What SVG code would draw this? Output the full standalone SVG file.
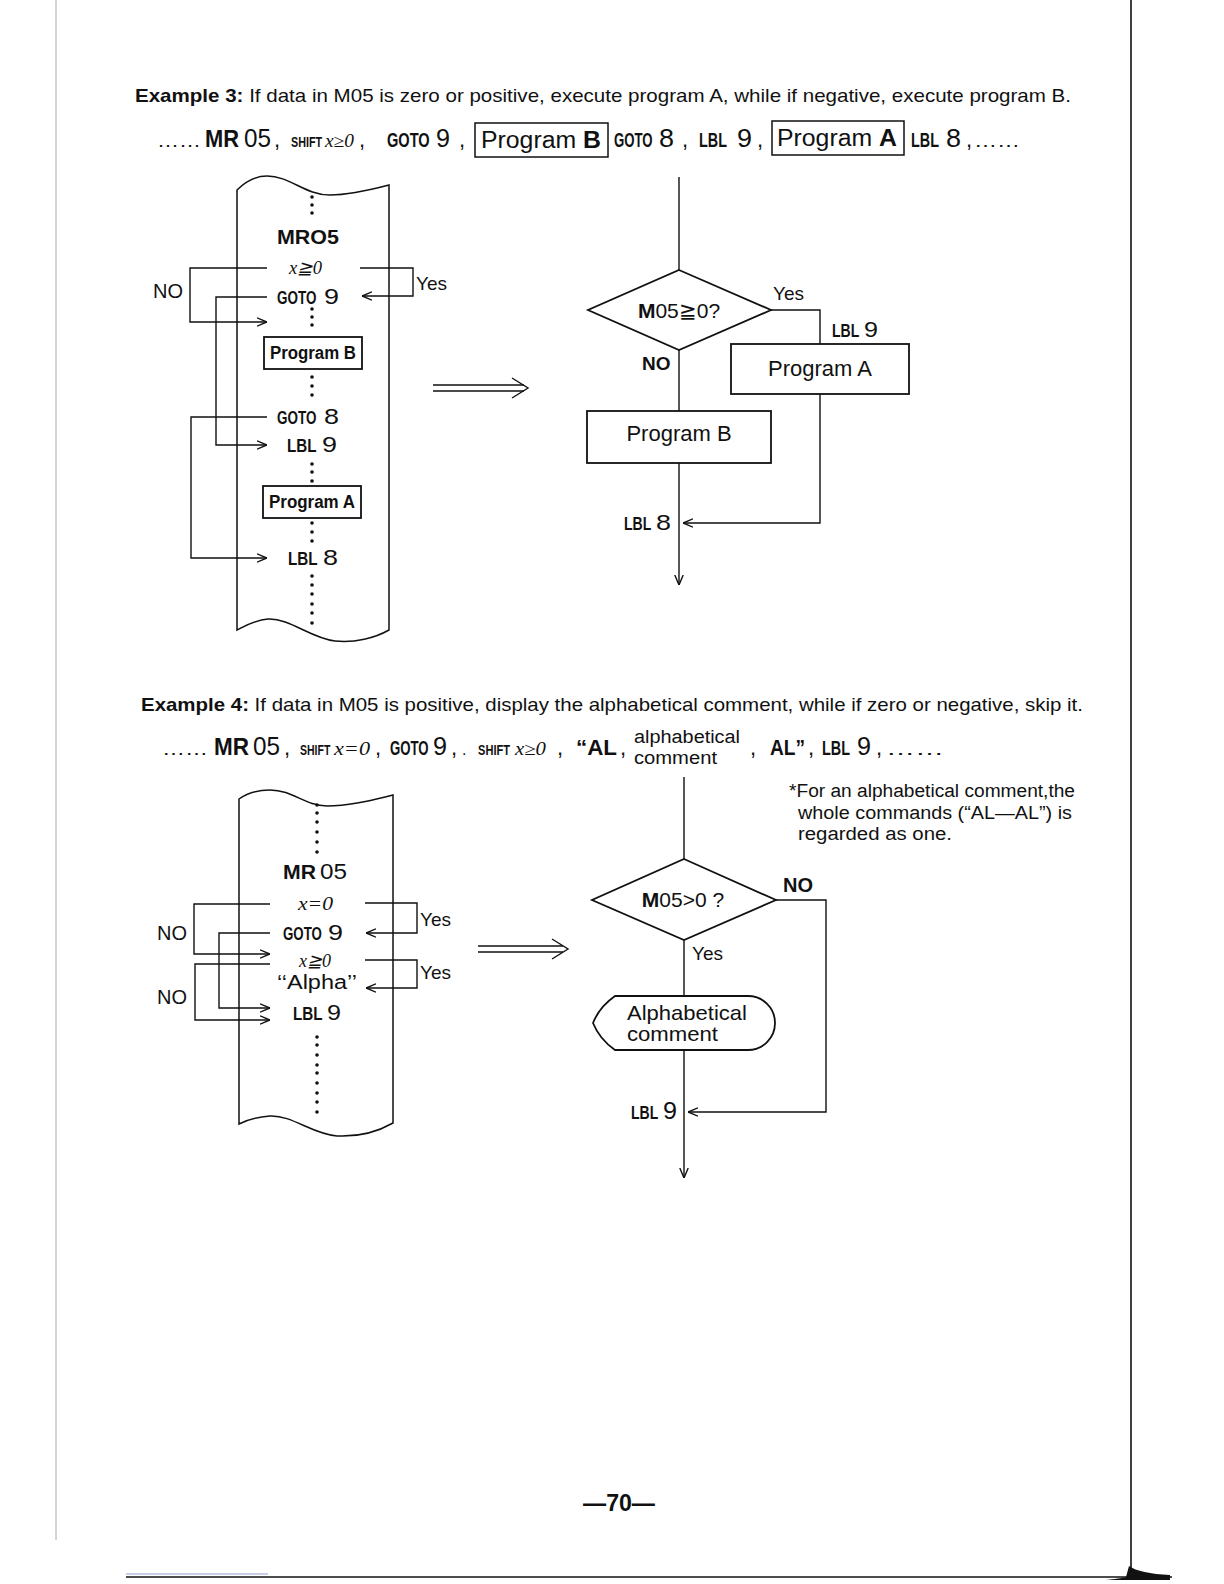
<svg xmlns="http://www.w3.org/2000/svg" width="1224" height="1584" viewBox="0 0 1224 1584">
<style>
text { font-family: "Liberation Sans", Arial, sans-serif; fill: #111; }
.b { font-weight: bold; }
.i { font-family: "Liberation Serif", "Times New Roman", serif; font-style: italic; }
.ln { stroke: #111; stroke-width: 1.4; fill: none; }
.bx { stroke: #111; stroke-width: 1.8; fill: #fff; }
.tape { stroke: #111; stroke-width: 1.5; fill: #fff; }
.dot { fill: #111; }
</style>
<defs>
<marker id="ah" viewBox="0 0 10 10" refX="10" refY="5" markerWidth="10" markerHeight="10" orient="auto" markerUnits="userSpaceOnUse">
<path d="M0,0.8 L10,5 L0,9.2" fill="none" stroke="#111" stroke-width="1.4"/>
</marker>
</defs>
<rect width="1224" height="1584" fill="#fff"/>

<!-- page edges -->
<g id="page">
<line x1="56" y1="0" x2="56" y2="1540" stroke="#aaa" stroke-width="1"/>
<line x1="1131" y1="0" x2="1131" y2="1577" stroke="#111" stroke-width="1.6"/>
<line x1="126" y1="1577" x2="1172" y2="1577" stroke="#111" stroke-width="1.6"/>
<line x1="126" y1="1574" x2="268" y2="1574" stroke="#8fa0d0" stroke-width="1"/>
<path d="M1126,1577 L1129,1566 C1136,1571 1150,1574 1170,1575 L1170,1580 L1105,1580 C1115,1579 1122,1578 1126,1577 Z" fill="#111"/>
</g>

<!-- ===== Example 3 ===== -->
<g id="ex3-title">
<text x="135" y="102" font-size="19" textLength="936" lengthAdjust="spacingAndGlyphs"><tspan class="b">Example 3:</tspan> If data in M05 is zero or positive, execute program A, while if negative, execute program B.</text>
</g>
<g id="ex3-code">
<text x="157" y="147" font-size="18" textLength="44" lengthAdjust="spacingAndGlyphs">……</text>
<text x="205" y="147" font-size="23" class="b" textLength="34" lengthAdjust="spacingAndGlyphs">MR</text>
<text x="244" y="147" font-size="25" textLength="27" lengthAdjust="spacingAndGlyphs">05</text>
<text x="274" y="147" font-size="22">,</text>
<text transform="translate(291,147) scale(0.72,1)" font-size="15" class="b">SHIFT</text>
<text x="325" y="147" font-size="18" class="i" textLength="29" lengthAdjust="spacingAndGlyphs">x≥0</text>
<text x="359" y="147" font-size="22">,</text>
<text transform="translate(387,147) scale(0.73,1)" font-size="20" class="b">GOTO</text>
<text x="436" y="147" font-size="25" textLength="14" lengthAdjust="spacingAndGlyphs">9</text>
<text x="459" y="147" font-size="22">,</text>
<rect x="475" y="123" width="133" height="34" fill="none" stroke="#111" stroke-width="1.5"/>
<text x="481" y="148" font-size="23" textLength="120" lengthAdjust="spacingAndGlyphs">Program <tspan class="b">B</tspan></text>
<text transform="translate(614,147) scale(0.66,1)" font-size="20" class="b">GOTO</text>
<text x="659" y="147" font-size="25" textLength="15" lengthAdjust="spacingAndGlyphs">8</text>
<text x="682" y="147" font-size="22">,</text>
<text transform="translate(699,147) scale(0.72,1)" font-size="20" class="b">LBL</text>
<text x="737" y="147" font-size="25" textLength="15" lengthAdjust="spacingAndGlyphs">9</text>
<text x="757" y="147" font-size="22">,</text>
<rect x="772" y="121" width="132" height="34" fill="none" stroke="#111" stroke-width="1.5"/>
<text x="777" y="146" font-size="23" textLength="120" lengthAdjust="spacingAndGlyphs">Program <tspan class="b">A</tspan></text>
<text transform="translate(911,147) scale(0.72,1)" font-size="20" class="b">LBL</text>
<text x="946" y="147" font-size="25" textLength="15" lengthAdjust="spacingAndGlyphs">8</text>
<text x="966" y="147" font-size="22">,</text>
<text x="974" y="147" font-size="18" textLength="46" lengthAdjust="spacingAndGlyphs">……</text>
</g>

<g id="ex3-tape">
<path class="tape" d="M237,190 C245,182 255,176 267,176 C290,176 305,195 330,195 C350,195 370,190 389,185 L389,630 C375,638 355,643 335,641 C310,638 290,618 268,619 C255,620 245,626 237,630 Z"/>
<g class="dot">
<circle cx="312" cy="197" r="1.8"/><circle cx="312" cy="205" r="1.8"/><circle cx="312" cy="213" r="1.8"/>
<circle cx="312" cy="309" r="1.8"/><circle cx="312" cy="317" r="1.8"/><circle cx="312" cy="325" r="1.8"/>
<circle cx="312" cy="377" r="1.8"/><circle cx="312" cy="386" r="1.8"/><circle cx="312" cy="395" r="1.8"/>
<circle cx="312" cy="464" r="1.8"/><circle cx="312" cy="472" r="1.8"/><circle cx="312" cy="481" r="1.8"/>
<circle cx="312" cy="523" r="1.8"/><circle cx="312" cy="532" r="1.8"/><circle cx="312" cy="541" r="1.8"/>
<circle cx="312" cy="576" r="1.8"/><circle cx="312" cy="585" r="1.8"/><circle cx="312" cy="594" r="1.8"/><circle cx="312" cy="604" r="1.8"/><circle cx="312" cy="613" r="1.8"/><circle cx="312" cy="623" r="1.8"/>
</g>
</g>
<g id="ex3-mr05"><text x="277" y="244" font-size="20" class="b" textLength="62" lengthAdjust="spacingAndGlyphs">MRO5</text></g>
<g id="ex3-cond"><text x="289" y="274" font-size="18" class="i" textLength="33" lengthAdjust="spacingAndGlyphs">x≧0</text></g>
<g id="ex3-goto9"><text transform="translate(277,304) scale(0.71,1)" font-size="19" class="b">GOTO</text><text x="324" y="304" font-size="22" textLength="15" lengthAdjust="spacingAndGlyphs">9</text></g>
<g id="ex3-progB"><rect class="bx" x="264" y="337" width="98" height="32"/><text x="270" y="359" font-size="18" class="b" textLength="86" lengthAdjust="spacingAndGlyphs">Program B</text></g>
<g id="ex3-goto8"><text transform="translate(277,424) scale(0.71,1)" font-size="19" class="b">GOTO</text><text x="324" y="424" font-size="22" textLength="15" lengthAdjust="spacingAndGlyphs">8</text></g>
<g id="ex3-lbl9"><text transform="translate(287,452) scale(0.8,1)" font-size="19" class="b">LBL</text><text x="322" y="452" font-size="22" textLength="15" lengthAdjust="spacingAndGlyphs">9</text></g>
<g id="ex3-progA"><rect class="bx" x="263" y="486" width="98" height="32"/><text x="269" y="508" font-size="18" class="b" textLength="86" lengthAdjust="spacingAndGlyphs">Program A</text></g>
<g id="ex3-lbl8"><text transform="translate(288,565) scale(0.8,1)" font-size="19" class="b">LBL</text><text x="323" y="565" font-size="22" textLength="15" lengthAdjust="spacingAndGlyphs">8</text></g>

<g id="ex3-tape-connectors">
<path class="ln" d="M267,268 H190 V322 H267" marker-end="url(#ah)"/>
<path class="ln" d="M360,268 H413 V296 H362" marker-end="url(#ah)"/>
<path class="ln" d="M267,297 H216 V445 H267" marker-end="url(#ah)"/>
<path class="ln" d="M267,417 H191 V558 H267" marker-end="url(#ah)"/>
<text x="153" y="298" font-size="20">NO</text>
<text x="416" y="290" font-size="19">Yes</text>
</g>

<g id="ex3-implies">
<path class="ln" d="M433,385 H524 M433,391 H524"/>
<path class="ln" d="M512,378 L528,388 L512,398"/>
</g>

<g id="ex3-decision">
<polygon class="bx" points="679,270 771,310 679,350 588,310"/>
<text x="679" y="318" font-size="21" text-anchor="middle"><tspan class="b">M</tspan>05≧0?</text>
</g>
<g id="ex3-programA">
<rect class="bx" x="731" y="344" width="178" height="50"/>
<text x="820" y="376" font-size="22" text-anchor="middle">Program A</text>
</g>
<g id="ex3-programB">
<rect class="bx" x="587" y="411" width="184" height="52"/>
<text x="679" y="441" font-size="22" text-anchor="middle">Program B</text>
</g>
<g id="ex3-flow-connectors">
<path class="ln" d="M679,177 V270"/>
<path class="ln" d="M771,310 H820 V344"/>
<path class="ln" d="M679,350 V411"/>
<path class="ln" d="M679,463 V585" marker-end="url(#ah)"/>
<path class="ln" d="M820,394 V523 H683" marker-end="url(#ah)"/>
<text x="773" y="300" font-size="19">Yes</text>
<text transform="translate(832,337) scale(0.74,1)" font-size="19" class="b">LBL</text>
<text x="864" y="337" font-size="22" textLength="14" lengthAdjust="spacingAndGlyphs">9</text>
<text x="642" y="370" font-size="19" class="b">NO</text>
<text transform="translate(624,530) scale(0.74,1)" font-size="19" class="b">LBL</text>
<text x="656" y="530" font-size="22" textLength="15" lengthAdjust="spacingAndGlyphs">8</text>
</g>

<!-- ===== Example 4 ===== -->
<g id="ex4-title">
<text x="141" y="711" font-size="19" textLength="942" lengthAdjust="spacingAndGlyphs"><tspan class="b">Example 4:</tspan> If data in M05 is positive, display the alphabetical comment, while if zero or negative, skip it.</text>
</g>
<g id="ex4-code">
<text x="162" y="755" font-size="18" textLength="46" lengthAdjust="spacingAndGlyphs">……</text>
<text x="214" y="755" font-size="23" class="b" textLength="35" lengthAdjust="spacingAndGlyphs">MR</text>
<text x="253" y="755" font-size="25" textLength="27" lengthAdjust="spacingAndGlyphs">05</text>
<text x="284" y="755" font-size="22">,</text>
<text transform="translate(300,755) scale(0.7,1)" font-size="15" class="b">SHIFT</text>
<text x="334" y="755" font-size="18" class="i" textLength="36" lengthAdjust="spacingAndGlyphs">x=0</text>
<text x="375" y="755" font-size="22">,</text>
<text transform="translate(390,755) scale(0.66,1)" font-size="20" class="b">GOTO</text>
<text x="433" y="755" font-size="25" textLength="14" lengthAdjust="spacingAndGlyphs">9</text>
<text x="451" y="755" font-size="22">,</text>
<text x="462" y="755" font-size="16">.</text>
<text transform="translate(478,755) scale(0.74,1)" font-size="15" class="b">SHIFT</text>
<text x="515" y="755" font-size="18" class="i" textLength="31" lengthAdjust="spacingAndGlyphs">x≥0</text>
<text x="557" y="755" font-size="22">,</text>
<text x="576" y="755" font-size="22" class="b" textLength="41" lengthAdjust="spacingAndGlyphs">“AL</text>
<text x="620" y="755" font-size="22">,</text>
<text x="634" y="743" font-size="18" textLength="106" lengthAdjust="spacingAndGlyphs">alphabetical</text>
<text x="634" y="764" font-size="18" textLength="83" lengthAdjust="spacingAndGlyphs">comment</text>
<text x="750" y="755" font-size="22">,</text>
<text x="770" y="755" font-size="22" class="b" textLength="35" lengthAdjust="spacingAndGlyphs">AL”</text>
<text x="808" y="755" font-size="22">,</text>
<text transform="translate(822,755) scale(0.72,1)" font-size="20" class="b">LBL</text>
<text x="857" y="755" font-size="25" textLength="14" lengthAdjust="spacingAndGlyphs">9</text>
<text x="876" y="755" font-size="22">,</text>
<text x="886" y="755" font-size="18" textLength="58" lengthAdjust="spacingAndGlyphs">……</text>
</g>

<g id="ex4-tape">
<path class="tape" d="M239,799 C247,793 257,790 270,790 C293,790 305,806 327,806 C350,806 372,800 393,795 L393,1123 C379,1131 359,1137 337,1136 C312,1134 292,1115 270,1116 C257,1117 247,1120 239,1124 Z"/>
<g class="dot">
<circle cx="317" cy="805" r="1.8"/><circle cx="317" cy="813" r="1.8"/><circle cx="317" cy="822" r="1.8"/><circle cx="317" cy="832" r="1.8"/><circle cx="317" cy="842" r="1.8"/><circle cx="317" cy="852" r="1.8"/>
<circle cx="317" cy="1037" r="1.8"/><circle cx="317" cy="1045" r="1.8"/><circle cx="317" cy="1055" r="1.8"/><circle cx="317" cy="1065" r="1.8"/><circle cx="317" cy="1073" r="1.8"/><circle cx="317" cy="1083" r="1.8"/><circle cx="317" cy="1093" r="1.8"/><circle cx="317" cy="1102" r="1.8"/><circle cx="317" cy="1112" r="1.8"/>
</g>
</g>
<g id="ex4-mr05"><text x="283" y="879" font-size="20" class="b" textLength="33" lengthAdjust="spacingAndGlyphs">MR</text><text x="320" y="879" font-size="22" textLength="27" lengthAdjust="spacingAndGlyphs">05</text></g>
<g id="ex4-cond1"><text x="298" y="910" font-size="19" class="i" textLength="35" lengthAdjust="spacingAndGlyphs">x=0</text></g>
<g id="ex4-goto9"><text transform="translate(283,940) scale(0.7,1)" font-size="19" class="b">GOTO</text><text x="328" y="940" font-size="22" textLength="15" lengthAdjust="spacingAndGlyphs">9</text></g>
<g id="ex4-cond2"><text x="299" y="967" font-size="18" class="i" textLength="32" lengthAdjust="spacingAndGlyphs">x≧0</text></g>
<g id="ex4-alpha"><text x="277" y="989" font-size="20" textLength="80" lengthAdjust="spacingAndGlyphs">‘‘Alpha’’</text></g>
<g id="ex4-lbl9"><text transform="translate(293,1020) scale(0.8,1)" font-size="19" class="b">LBL</text><text x="327" y="1020" font-size="22" textLength="14" lengthAdjust="spacingAndGlyphs">9</text></g>

<g id="ex4-tape-connectors">
<path class="ln" d="M270,904 H194 V954 H270" marker-end="url(#ah)"/>
<path class="ln" d="M270,964 H195 V1020 H270" marker-end="url(#ah)"/>
<path class="ln" d="M270,933 H219 V1008 H270" marker-end="url(#ah)"/>
<path class="ln" d="M365,903 H417 V933 H366" marker-end="url(#ah)"/>
<path class="ln" d="M365,960 H417 V988 H366" marker-end="url(#ah)"/>
<text x="157" y="940" font-size="20">NO</text>
<text x="157" y="1004" font-size="20">NO</text>
<text x="420" y="926" font-size="19">Yes</text>
<text x="420" y="979" font-size="19">Yes</text>
</g>

<g id="ex4-implies">
<path class="ln" d="M478,946 H563 M478,952 H563"/>
<path class="ln" d="M552,939 L568,949 L552,959"/>
</g>

<g id="ex4-note">
<text x="789" y="797" font-size="18" textLength="286" lengthAdjust="spacingAndGlyphs">*For an alphabetical comment,the</text>
<text x="798" y="819" font-size="18" textLength="274" lengthAdjust="spacingAndGlyphs">whole commands (“AL—AL”) is</text>
<text x="798" y="840" font-size="18" textLength="154" lengthAdjust="spacingAndGlyphs">regarded as one.</text>
</g>

<g id="ex4-decision">
<polygon class="bx" points="684,859 776,900 684,940 592,900"/>
<text x="683" y="907" font-size="21" text-anchor="middle"><tspan class="b">M</tspan>05&gt;0 ?</text>
</g>
<g id="ex4-comment">
<path class="bx" d="M615,996 H748 A27,27 0 0 1 748,1050 H615 C605,1043 597,1033 593,1023 C597,1013 605,1003 615,996 Z"/>
<text x="627" y="1020" font-size="21" textLength="120" lengthAdjust="spacingAndGlyphs">Alphabetical</text>
<text x="627" y="1041" font-size="21" textLength="91" lengthAdjust="spacingAndGlyphs">comment</text>
</g>
<g id="ex4-flow-connectors">
<path class="ln" d="M684,777 V859"/>
<path class="ln" d="M776,900 H826 V1112 H688" marker-end="url(#ah)"/>
<path class="ln" d="M684,940 V996"/>
<path class="ln" d="M684,1050 V1178" marker-end="url(#ah)"/>
<text x="783" y="892" font-size="20" class="b">NO</text>
<text x="692" y="960" font-size="19">Yes</text>
<text transform="translate(631,1119) scale(0.74,1)" font-size="19" class="b">LBL</text>
<text x="663" y="1119" font-size="24" textLength="14" lengthAdjust="spacingAndGlyphs">9</text>
</g>

<g id="page-number">
<text x="619" y="1511" font-size="24" text-anchor="middle" class="b" textLength="72" lengthAdjust="spacingAndGlyphs">—70—</text>
</g>
</svg>
